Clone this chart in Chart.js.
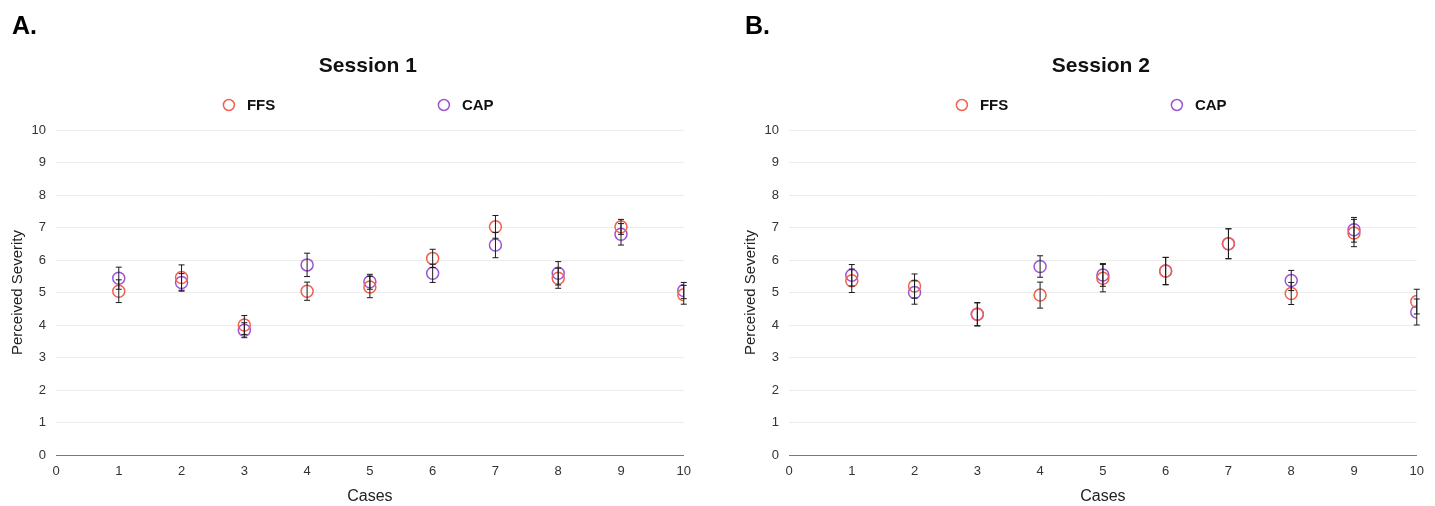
<!DOCTYPE html>
<html>
<head>
<meta charset="utf-8">
<script src="https://cdn.jsdelivr.net/npm/chart.js@4.4.1/dist/chart.umd.min.js"></script>
<style>
  body { margin: 0; background: #fff; width: 1435px; height: 506px; overflow: hidden; }
  .panel { position: absolute; top: 0; width: 700px; height: 506px; }
  #panelA { left: 0; }
  #panelB { left: 733px; }
</style>
</head>
<body>
<div class="panel" id="panelA"><canvas id="chartA"></canvas></div>
<div class="panel" id="panelB"><canvas id="chartB"></canvas></div>
<script>
// Datos
const cases = [1, 2, 3, 4, 5, 6, 7, 8, 9, 10];
const seriesNames = ['FFS', 'CAP'];
const axisTicks = [0, 1, 2, 3, 4, 5, 6, 7, 8, 9, 10];

const s1FFS    = [5.04, 5.46, 4.00, 5.04, 5.17, 6.05, 7.02, 5.44, 7.02, 4.93];
const s1FFSErr = [0.35, 0.39, 0.29, 0.28, 0.33, 0.28, 0.35, 0.31, 0.23, 0.29];
const s1CAP    = [5.44, 5.31, 3.84, 5.85, 5.33, 5.59, 6.46, 5.59, 6.79, 5.06];
const s1CAPErr = [0.34, 0.27, 0.23, 0.36, 0.23, 0.28, 0.39, 0.36, 0.33, 0.25];

const s2FFS    = [5.36, 5.20, 4.33, 4.92, 5.44, 5.66, 6.50, 4.97, 6.83, 4.72];
const s2FFSErr = [0.36, 0.37, 0.36, 0.40, 0.42, 0.42, 0.46, 0.34, 0.42, 0.38];
const s2CAP    = [5.53, 5.00, 4.33, 5.80, 5.54, 5.66, 6.50, 5.37, 6.93, 4.40];
const s2CAPErr = [0.33, 0.36, 0.35, 0.33, 0.35, 0.42, 0.46, 0.31, 0.38, 0.40];

const colors = ['#f2604f', '#9b55d4'];
const FONT = '"Liberation Sans", Arial, Helvetica, sans-serif';

// Barras de error: se dibujan con las escalas del grafico
const errorBars = {
  id: 'errorBars',
  afterDatasetsDraw(chart) {
    const { ctx, scales: { x, y } } = chart;
    ctx.save();
    ctx.strokeStyle = '#1a1a1a';
    ctx.lineWidth = 1;
    chart.data.datasets.forEach(ds => {
      ds.data.forEach((p, i) => {
        const e = ds.errors[i];
        const px = x.getPixelForValue(p.x);
        const top = y.getPixelForValue(p.y + e);
        const bot = y.getPixelForValue(p.y - e);
        ctx.beginPath();
        ctx.moveTo(px, top); ctx.lineTo(px, bot);
        ctx.moveTo(px - 3, top); ctx.lineTo(px + 3, top);
        ctx.moveTo(px - 3, bot); ctx.lineTo(px + 3, bot);
        ctx.stroke();
      });
    });
    ctx.restore();
  }
};

// Letra del panel, titulo y leyenda centrados sobre el area del grafico
const header = {
  id: 'header',
  afterDraw(chart, args, opts) {
    const { ctx, chartArea } = chart;
    const cx = (chartArea.left + chartArea.right) / 2;
    ctx.save();
    ctx.fillStyle = '#000';
    ctx.textBaseline = 'middle';
    ctx.font = 'bold 25px ' + FONT;
    ctx.textAlign = 'left';
    ctx.fillText(opts.letter, 12, 27);

    ctx.font = 'bold 21px ' + FONT;
    ctx.textAlign = 'center';
    ctx.fillStyle = '#111';
    ctx.fillText(opts.title, cx - 2, 66);

    const offsets = [-141, 74];
    ctx.font = 'bold 15px ' + FONT;
    ctx.textAlign = 'left';
    chart.data.datasets.forEach((ds, i) => {
      const lx = cx + offsets[i];
      ctx.beginPath();
      ctx.arc(lx, 105, 5.5, 0, Math.PI * 2);
      ctx.strokeStyle = ds.borderColor;
      ctx.lineWidth = 1.5;
      ctx.stroke();
      ctx.fillStyle = '#111';
      ctx.fillText(ds.label, lx + 18, 106);
    });
    ctx.restore();
  }
};

function makeChart(id, letter, title, ffs, ffsErr, cap, capErr) {
  const sets = [[ffs, ffsErr], [cap, capErr]];
  new Chart(document.getElementById(id), {
    type: 'scatter',
    data: {
      datasets: sets.map((s, i) => ({
        label: seriesNames[i],
        data: cases.map((c, j) => ({ x: c, y: s[0][j] })),
        errors: s[1],
        borderColor: colors[i],
        backgroundColor: 'rgba(0,0,0,0)',
        pointRadius: 6,
        pointHoverRadius: 6,
        borderWidth: 1.5
      }))
    },
    options: {
      responsive: true,
      maintainAspectRatio: false,
      animation: false,
      layout: { padding: { top: 130, left: 5, right: 16, bottom: 0 } },
      plugins: {
        legend: { display: false },
        tooltip: { enabled: false },
        header: { letter: letter, title: title }
      },
      scales: {
        x: {
          type: 'linear',
          min: 0, max: 10,
          afterBuildTicks: axis => { axis.ticks = axisTicks.map(v => ({ value: v })); },
          afterFit: axis => { axis.height = 51; },
          grid: { display: false, drawTicks: false },
          border: { display: true, color: '#7a7a7a', width: 1 },
          ticks: { padding: 9, color: '#333', font: { family: FONT, size: 13 } },
          title: {
            display: true, text: 'Cases', color: '#222',
            font: { family: FONT, size: 16 }, padding: { top: 4, bottom: 0 }
          }
        },
        y: {
          type: 'linear',
          min: 0, max: 10,
          afterBuildTicks: axis => { axis.ticks = axisTicks.map(v => ({ value: v })); },
          afterFit: axis => { axis.width = 51; },
          grid: {
            drawTicks: false,
            color: c => c.tick.value === 0 ? 'rgba(0,0,0,0)' : '#ececec'
          },
          border: { display: false },
          ticks: { padding: 10, color: '#333', font: { family: FONT, size: 13 } },
          title: {
            display: true, text: 'Perceived Severity', color: '#222',
            font: { family: FONT, size: 15 }, padding: { top: 4, bottom: 4 }
          }
        }
      }
    },
    plugins: [errorBars, header]
  });
}

makeChart('chartA', 'A.', 'Session 1', s1FFS, s1FFSErr, s1CAP, s1CAPErr);
makeChart('chartB', 'B.', 'Session 2', s2FFS, s2FFSErr, s2CAP, s2CAPErr);
</script>
</body>
</html>
